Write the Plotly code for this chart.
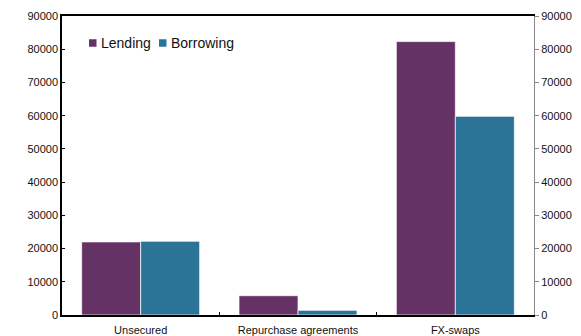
import plotly.graph_objects as go

categories = ["Unsecured", "Repurchase agreements", "FX-swaps"]
lending = [22000, 5800, 82300]
borrowing = [22200, 1400, 59800]
tick_values = list(range(0, 90001, 10000))

LEND_COLOR = "#643264"
BORROW_COLOR = "#2c7398"
FONT = "Liberation Sans, Arial, sans-serif"

fig = go.Figure()
fig.add_trace(go.Bar(
    x=categories, y=lending, name="Lending",
    marker=dict(color=LEND_COLOR, line=dict(color="rgba(255,255,255,0.7)", width=1)),
    showlegend=False,
))
fig.add_trace(go.Bar(
    x=categories, y=borrowing, name="Borrowing",
    marker=dict(color=BORROW_COLOR, line=dict(color="rgba(255,255,255,0.7)", width=1)),
    showlegend=False,
))
# placeholder trace so the right-hand axis is drawn
fig.add_trace(go.Scatter(x=[categories[0]], y=[None], yaxis="y2",
                         showlegend=False, hoverinfo="skip"))

fig.update_layout(
    width=581, height=336,
    margin=dict(l=62, r=47, t=16, b=21),
    paper_bgcolor="white", plot_bgcolor="white",
    barmode="group", bargap=0.25, bargroupgap=0,
    font=dict(family=FONT, size=11, color="#111"),
    xaxis=dict(
        showline=True, linecolor="black", linewidth=1.5, mirror=True,
        ticks="inside", tickson="boundaries", ticklen=3, tickcolor="black",
        showgrid=False, tickfont=dict(size=11), automargin=False,
        ticklabelstandoff=4,
    ),
    yaxis=dict(
        range=[0, 90000], tickvals=tick_values, showgrid=False, zeroline=False,
        showline=True, linecolor="black", linewidth=1.5,
        ticks="inside", ticklen=3, tickcolor="black", tickformat="d",
        tickfont=dict(size=11), automargin=False,
    ),
    yaxis2=dict(
        range=[0, 90000], tickvals=tick_values, overlaying="y", side="right",
        showgrid=False, zeroline=False, showline=True, linecolor="#888",
        linewidth=1, ticks="outside", ticklen=4, tickcolor="#888",
        tickformat="d", tickfont=dict(size=11), automargin=False,
    ),
)

# legend: coloured squares with labels
legend_items = [("Lending", LEND_COLOR, 89), ("Borrowing", BORROW_COLOR, 159)]
for label, color, px in legend_items:
    x0 = (px - 62) / 472
    x1 = (px + 7.5 - 62) / 472
    y_mid = (315 - 43) / 299
    fig.add_shape(type="rect", xref="paper", yref="paper",
                  x0=x0, x1=x1, y0=y_mid - 3.75 / 299, y1=y_mid + 3.75 / 299,
                  fillcolor=color, line=dict(width=0))
    fig.add_annotation(xref="paper", yref="paper", x=(px + 10 - 62) / 472, y=y_mid,
                       text=label, showarrow=False, xanchor="left", yanchor="middle",
                       font=dict(family=FONT, size=14, color="#111"))

fig.write_html("out.html")
